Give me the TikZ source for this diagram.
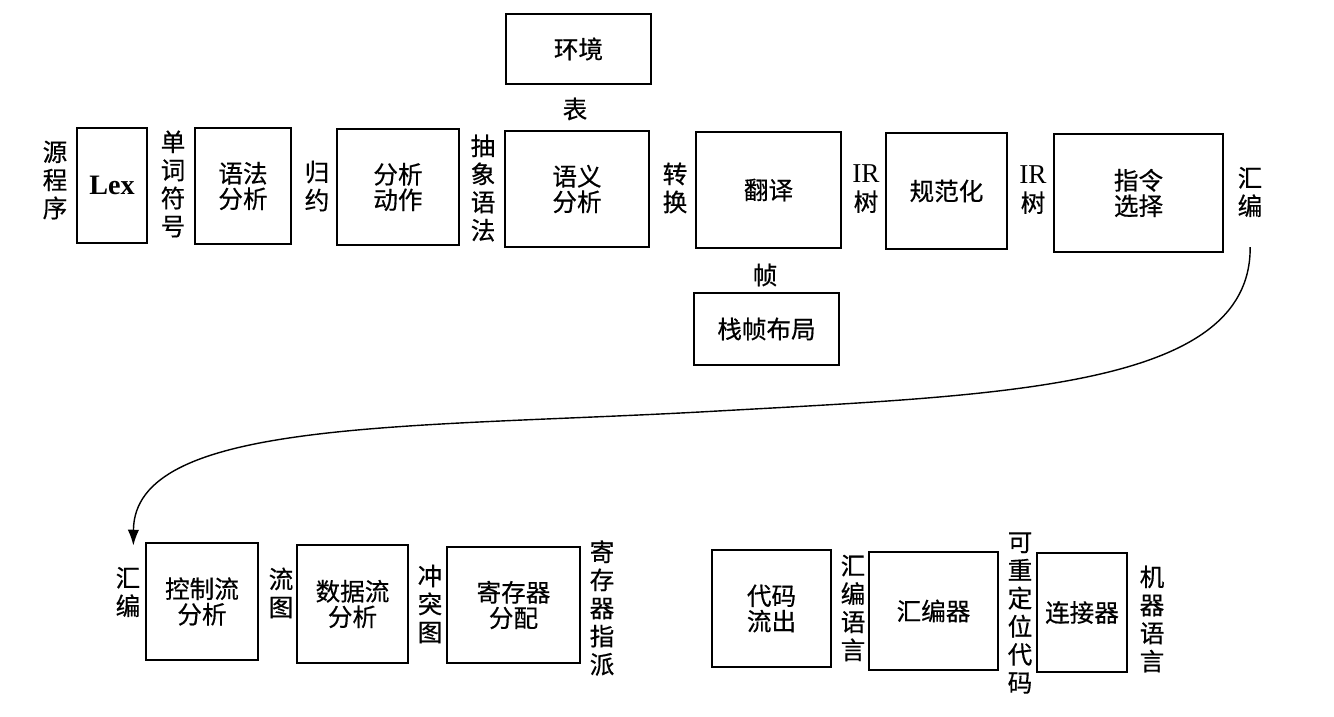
\documentclass[tikz,border=0pt]{standalone}
\usepackage{fontspec}
\setmainfont{Liberation Serif}
\newfontfamily\cjk[FakeBold=0.5]{Noto Sans CJK SC}
\usetikzlibrary{arrows.meta}

\begin{document}
\begin{tikzpicture}[x=0.02cm,y=-0.02cm,
    box/.style={draw, line width=1.1pt, align=center, inner sep=0pt,
        font=\cjk\fontsize{14}{14.5}\selectfont},
    lbl/.style={align=center, inner sep=2pt,
        font=\cjk\fontsize{14}{16}\selectfont}]
    \useasboundingbox (0,0) rectangle (1334,716);

    %upper row (boxes)
    \node[box, minimum width=1.4cm, minimum height=2.3cm, font=\bfseries\fontsize{16}{18}\selectfont] (lex) at (112,185.5) {Lex};
    \node[box, minimum width=1.92cm, minimum height=2.32cm] (syn) at (243,186) {语法\\分析};
    \node[box, minimum width=2.44cm, minimum height=2.32cm] (act) at (398,187) {分析\\动作};
    \node[box, minimum width=2.9cm, minimum height=1.4cm] (env) at (578.5,49) {环境};
    \node[box, minimum width=2.88cm, minimum height=2.32cm] (sem) at (577,189) {语义\\分析};
    \node[box, minimum width=2.9cm, minimum height=2.32cm] (trans) at (768.5,190) {翻译};
    \node[box, minimum width=2.9cm, minimum height=1.44cm] (frame) at (766.5,329) {栈帧布局};
    \node[box, minimum width=2.42cm, minimum height=2.32cm] (canon) at (946.5,191) {规范化};
    \node[box, minimum width=3.38cm, minimum height=2.36cm] (isel) at (1138.5,193) {指令\\选择};

    %upper row (labels)
    \node[lbl] (src) at (55,180) {源\\程\\序};
    \node[lbl] (tok) at (173,184) {单\\词\\符\\号};
    \node[lbl] (red) at (317,186) {归\\约};
    \node[lbl] (ast) at (483,188) {抽\\象\\语\\法};
    \node[lbl] (tab) at (575,109) {表};
    \node[lbl] (cvt) at (675,188) {转\\换};
    \node[lbl] (irA) at (866,189) {{\rmfamily\fontsize{15.5}{16}\selectfont IR}\\树};
    \node[lbl] (frm) at (765,275) {帧};
    \node[lbl] (irB) at (1033,190) {{\rmfamily\fontsize{15.5}{16}\selectfont IR}\\树};
    \node[lbl] (asmA) at (1250,192) {汇\\编};

    %lower row (boxes)
    \node[box, minimum width=2.24cm, minimum height=2.34cm] (cfa) at (202,601.5) {控制流\\分析};
    \node[box, minimum width=2.22cm, minimum height=2.36cm] (dfa) at (352.5,604) {数据流\\分析};
    \node[box, minimum width=2.66cm, minimum height=2.32cm] (ralloc) at (513.5,605) {寄存器\\分配};
    \node[box, minimum width=2.38cm, minimum height=2.34cm] (emit) at (771.5,608.5) {代码\\流出};
    \node[box, minimum width=2.58cm, minimum height=2.36cm] (asmb) at (933.5,611) {汇编器};
    \node[box, minimum width=1.8cm, minimum height=2.38cm] (link) at (1082,612.5) {连接器};

    %lower row (labels)
    \node[lbl] (asmB) at (128,592) {汇\\编};
    \node[lbl] (flow) at (281,593) {流\\图};
    \node[lbl] (intf) at (430,604) {冲\\突\\图};
    \node[lbl] (rasg) at (602,608) {寄\\存\\器\\指\\派};
    \node[lbl] (asml) at (853,608) {汇\\编\\语\\言};
    \node[lbl] (reloc) at (1020,613) {可\\重\\定\\位\\代\\码};
    \node[lbl] (mach) at (1152,619) {机\\器\\语\\言};

    %wrap-around arrow
    \draw[-{Latex[length=9pt,width=6.5pt]}, line width=0.8pt, shorten <=15pt, shorten >=10pt]
        (asmA.south) .. controls (1251,390) and (1000,395) .. (700,412)
        .. controls (400,428) and (134,420) .. ([xshift=3pt]asmB.north);
\end{tikzpicture}
\end{document}
